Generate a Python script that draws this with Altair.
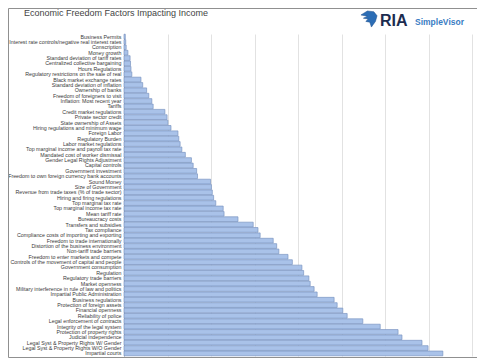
import altair as alt
import pandas as pd

title_text = "Economic Freedom Factors Impacting Income"
brand_main = "RIA"
brand_sub = "SimpleVisor"

factors = [
    "Business Permits",
    "Interest rate controls/negative real interest rates",
    "Conscription",
    "Money growth",
    "Standard deviation of tariff rates",
    "Centralized collective bargaining",
    "Hours Regulations",
    "Regulatory restrictions on the sale of real",
    "Black market exchange rates",
    "Standard deviation of inflation",
    "Ownership of banks",
    "Freedom of foreigners to visit",
    "Inflation: Most recent year",
    "Tariffs",
    "Credit market regulations",
    "Private sector credit",
    "State ownership of Assets",
    "Hiring regulations and minimum wage",
    "Foreign Labor",
    "Regulatory Burden",
    "Labor market regulations",
    "Top marginal income and payroll tax rate",
    "Mandated cost of worker dismissal",
    "Gender Legal Rights Adjustment",
    "Capital controls",
    "Government investment",
    "Freedom to own foreign currency bank accounts",
    "Sound Money",
    "Size of Government",
    "Revenue from trade taxes (% of trade sector)",
    "Hiring and firing regulations",
    "Top marginal tax rate",
    "Top marginal income tax rate",
    "Mean tariff rate",
    "Bureaucracy costs",
    "Transfers and subsidies",
    "Tax compliance",
    "Compliance costs of importing and exporting",
    "Freedom to trade internationally",
    "Distortion of the business environment",
    "Non-tariff trade barriers",
    "Freedom to enter markets and compete",
    "Controls of the movement of capital and people",
    "Government consumption",
    "Regulation",
    "Regulatory trade barriers",
    "Market openness",
    "Military interference in rule of law and politics",
    "Impartial Public Administration",
    "Business regulations",
    "Protection of foreign assets",
    "Financial openness",
    "Reliability of police",
    "Legal enforcement of contracts",
    "Integrity of the legal system",
    "Protection of property rights",
    "Judicial independence",
    "Legal Syst & Property Rights W/ Gender",
    "Legal Syst & Property Rights W/O Gender",
    "Impartial courts",
]

impact = [
    0.03, 0.04, 0.05, 0.09, 0.14, 0.15, 0.16, 0.18, 0.39, 0.43,
    0.52, 0.57, 0.64, 0.67, 0.94, 0.99, 1.01, 1.08, 1.24, 1.26,
    1.29, 1.33, 1.41, 1.55, 1.59, 1.67, 1.69, 1.99, 2.01, 2.03,
    2.06, 2.11, 2.28, 2.30, 2.62, 2.97, 3.08, 3.13, 3.43, 3.51,
    3.56, 3.77, 3.87, 4.09, 4.13, 4.25, 4.28, 4.37, 4.44, 4.83,
    4.90, 5.03, 5.13, 5.49, 5.89, 6.30, 6.39, 6.85, 6.99, 7.33,
]

grid_values = [1, 2, 3, 4, 5, 6, 7, 8]

df = pd.DataFrame({"factor": factors, "impact": impact})

bars = alt.Chart(df).mark_bar(
    fill="#a9c2e9", stroke="#7b95c1", strokeWidth=0.7
).encode(
    y=alt.Y(
        "factor:N",
        sort=factors,
        scale=alt.Scale(paddingInner=0.12, paddingOuter=0.04),
        axis=alt.Axis(
            title=None,
            ticks=False,
            labelFontSize=5.3,
            labelFont="Liberation Sans",
            labelColor="#3a3a3a",
            labelPadding=3,
            labelLimit=0,
            labelOverlap=False,
            domainColor="#a0a0a0",
            domainWidth=1,
            grid=False,
        ),
    ),
    x=alt.X(
        "impact:Q",
        scale=alt.Scale(domain=[0, 8], nice=False),
        axis=alt.Axis(
            title=None,
            labels=False,
            ticks=False,
            domain=False,
            grid=True,
            values=grid_values,
            gridColor="#e2e2e2",
            gridWidth=1,
        ),
    ),
)

one_row = pd.DataFrame({"t": [title_text]})

frame_layer = alt.Chart(one_row).mark_rect(
    fill="transparent", stroke="#909090", strokeWidth=1
).encode(
    x=alt.value(-115.5), x2=alt.value(357.5),
    y=alt.value(-25.5), y2=alt.value(323.5),
)

title_layer = alt.Chart(one_row).mark_text(
    align="left", baseline="alphabetic", fontSize=9, font="Liberation Sans",
    color="#444444",
).encode(x=alt.value(-100), y=alt.value(-18.5), text="t:N")

icon_path = ("M -1 -0.5 L -0.2 -1 L 0.6 -0.9 L 1 -0.4 L 0.8 0.3 L 0.3 1 "
             "L 0.1 0.4 L -0.4 0.3 L -0.1 0 L -0.7 -0.1 L -0.2 -0.35 Z")
icon_layer = alt.Chart(pd.DataFrame({"t": [brand_main]})).mark_point(
    shape=icon_path, filled=True, fill="#2c6db5", stroke="#1f4f8a",
    strokeWidth=0.5, size=260, opacity=1,
).encode(x=alt.value(245), y=alt.value(-15))

ria_layer = alt.Chart(pd.DataFrame({"t": [brand_main]})).mark_text(
    align="left", baseline="alphabetic", fontSize=16, fontWeight="bold",
    font="Liberation Sans", color="#1c2c4f",
).encode(x=alt.value(256), y=alt.value(-8), text="t:N")

sv_layer = alt.Chart(pd.DataFrame({"t": [brand_sub]})).mark_text(
    align="left", baseline="alphabetic", fontSize=8.5, fontWeight="bold",
    font="Liberation Sans", color="#3a7cc3",
).encode(x=alt.value(291), y=alt.value(-9), text="t:N")

chart = alt.layer(
    frame_layer, bars, title_layer, icon_layer, ria_layer, sv_layer
).properties(
    width=348,
    height=322,
    autosize=alt.AutoSizeParams(type="none"),
    padding={"left": 116, "top": 26, "right": 5, "bottom": 4},
).configure_view(strokeWidth=0)

chart.save("out.html", embed_options={"renderer": "svg", "actions": False})
